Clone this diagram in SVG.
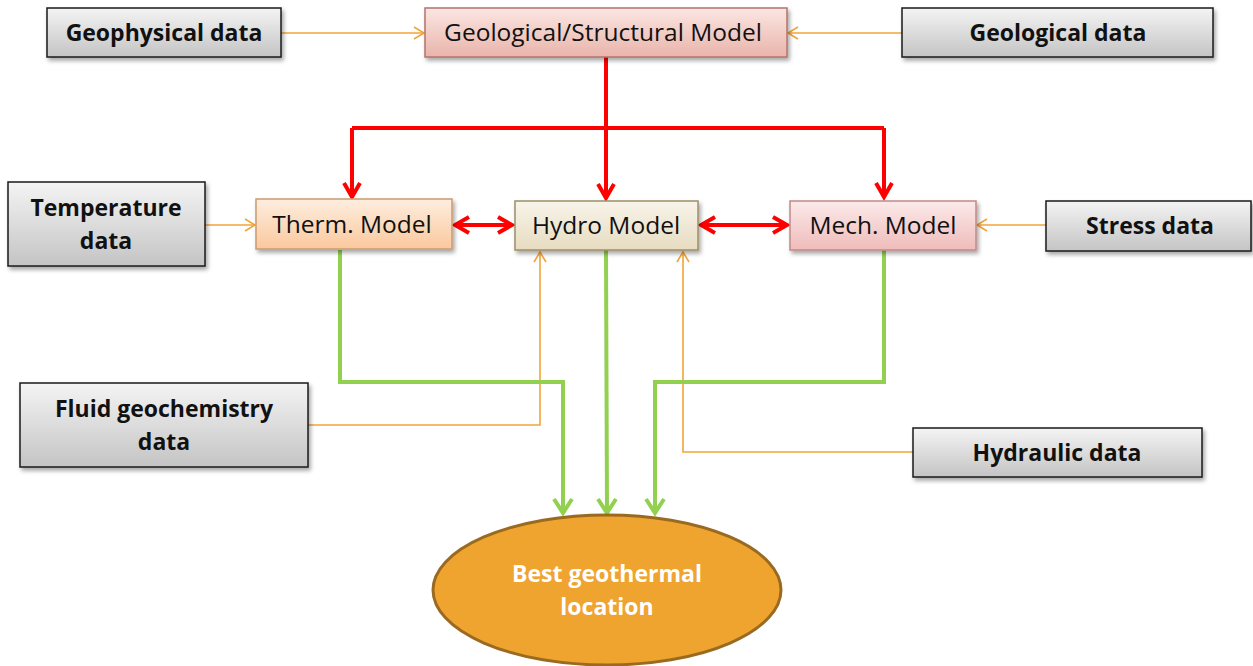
<svg xmlns="http://www.w3.org/2000/svg" width="1253" height="666" viewBox="0 0 1253 666">
<defs>
<linearGradient id="gData" x1="0" y1="0" x2="0" y2="1"><stop offset="0" stop-color="#f4f4f4"/><stop offset="1" stop-color="#c4c4c4"/></linearGradient>
<linearGradient id="gGeo" x1="0" y1="0" x2="0" y2="1"><stop offset="0" stop-color="#fbe6e2"/><stop offset="1" stop-color="#e9b4ab"/></linearGradient>
<linearGradient id="gTherm" x1="0" y1="0" x2="0" y2="1"><stop offset="0" stop-color="#fdeedf"/><stop offset="1" stop-color="#fbc89d"/></linearGradient>
<linearGradient id="gHydro" x1="0" y1="0" x2="0" y2="1"><stop offset="0" stop-color="#f8f4ea"/><stop offset="1" stop-color="#e7dcc1"/></linearGradient>
<linearGradient id="gMech" x1="0" y1="0" x2="0" y2="1"><stop offset="0" stop-color="#fbeaea"/><stop offset="1" stop-color="#efbcba"/></linearGradient>
<filter id="sh" x="-10%" y="-20%" width="130%" height="160%"><feDropShadow dx="2" dy="3" stdDeviation="2" flood-color="#000" flood-opacity="0.35"/></filter>
<marker id="aO" markerUnits="userSpaceOnUse" markerWidth="16" markerHeight="16" refX="12" refY="7" orient="auto"><path d="M2,1 L12,7 L2,13" fill="none" stroke="#f2a43a" stroke-width="1.6"/></marker>
<marker id="aR" markerUnits="userSpaceOnUse" markerWidth="24" markerHeight="24" refX="17" refY="10" orient="auto"><path d="M3,2 L17,10 L3,18" fill="none" stroke="#ff0000" stroke-width="4"/></marker>
<marker id="aRs" markerUnits="userSpaceOnUse" markerWidth="24" markerHeight="24" refX="3" refY="10" orient="auto"><path d="M17,2 L3,10 L17,18" fill="none" stroke="#ff0000" stroke-width="4"/></marker>
<marker id="aG" markerUnits="userSpaceOnUse" markerWidth="24" markerHeight="26" refX="17" refY="11" orient="auto"><path d="M3,2 L17,11 L3,20" fill="none" stroke="#92d050" stroke-width="4"/></marker>
</defs>
<style>
.data rect{fill:url(#gData);stroke:#1a1a1a;stroke-width:1.5;filter:url(#sh)}
.data text{font-family:"Open Sans","Liberation Sans",sans-serif;font-weight:bold;font-size:23px;fill:#111;text-anchor:middle}
.model text{font-family:"Open Sans","Liberation Sans",sans-serif;font-size:24.5px;fill:#111;text-anchor:middle}
.model rect{stroke-width:1.5;filter:url(#sh)}
.o{fill:none;stroke:#f2a43a;stroke-width:1.6;marker-end:url(#aO)}
.r{fill:none;stroke:#ff0000;stroke-width:4}
.g{fill:none;stroke:#92d050;stroke-width:4;marker-end:url(#aG)}
.best{font-family:"Open Sans","Liberation Sans",sans-serif;font-weight:bold;font-size:23px;fill:#fff;text-anchor:middle}
</style>
<g id="connectors">
<path class="o" d="M281,33 H424"/>
<path class="o" d="M902,33 H788"/>
<path class="o" d="M205,225 H255"/>
<path class="o" d="M1046,225 H977"/>
<path class="o" d="M308,425 H540 V252"/>
<path class="o" d="M913,452 H683 V252"/>
<path class="r" d="M606,57 V128 M352,128 H884"/>
<path class="r" d="M352,128 V197" marker-end="url(#aR)"/>
<path class="r" d="M606,128 V198" marker-end="url(#aR)"/>
<path class="r" d="M884,128 V197" marker-end="url(#aR)"/>
<path class="r" d="M455,225 H512" marker-start="url(#aRs)" marker-end="url(#aR)"/>
<path class="r" d="M701,225 H787" marker-start="url(#aRs)" marker-end="url(#aR)"/>
<path class="g" d="M340,250 V382 H563 V513"/>
<path class="g" d="M606,250 L607,513"/>
<path class="g" d="M884,250 V382 H655 V513"/>
</g>
<g id="geophysical" class="data"><rect x="47" y="8" width="234" height="49"/><text x="164" y="41">Geophysical data</text></g>
<g id="geological-data" class="data"><rect x="902" y="8" width="311" height="49"/><text x="1058" y="41">Geological data</text></g>
<g id="temperature" class="data"><rect x="8" y="182" width="197" height="84"/><text x="106" y="216">Temperature</text><text x="106" y="249">data</text></g>
<g id="stress" class="data"><rect x="1046" y="201" width="205" height="50"/><text x="1150" y="234">Stress data</text></g>
<g id="fluid" class="data"><rect x="20" y="383" width="288" height="84"/><text x="164" y="417">Fluid geochemistry</text><text x="164" y="450">data</text></g>
<g id="hydraulic" class="data"><rect x="913" y="428" width="289" height="49"/><text x="1057" y="461">Hydraulic data</text></g>
<g id="geo-model" class="model"><rect x="425" y="8" width="362" height="49" fill="url(#gGeo)" stroke="#b5736a"/><text x="603" y="41">Geological/Structural Model</text></g>
<g id="therm" class="model"><rect x="256" y="199" width="196" height="50" fill="url(#gTherm)" stroke="#c99c72"/><text x="352" y="233">Therm. Model</text></g>
<g id="hydro" class="model"><rect x="515" y="201" width="183" height="49" fill="url(#gHydro)" stroke="#9c8f68"/><text x="606" y="234">Hydro Model</text></g>
<g id="mech" class="model"><rect x="790" y="201" width="186" height="49" fill="url(#gMech)" stroke="#c08a88"/><text x="883" y="234">Mech. Model</text></g>
<g id="best"><ellipse cx="607" cy="590" rx="174" ry="75" fill="#f0a430" stroke="#9a6a20" stroke-width="3"/><text class="best" x="607" y="582">Best geothermal</text><text class="best" x="607" y="615">location</text></g>
</svg>
